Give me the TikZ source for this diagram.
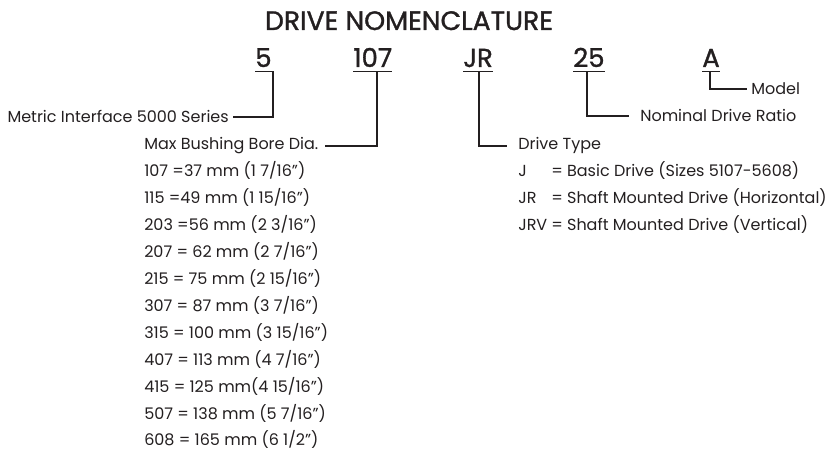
\documentclass[tikz,border=0pt]{standalone}
\usepackage{fontspec}
\setmainfont{Poppins}
\usetikzlibrary{positioning,calc}
\definecolor{ink}{HTML}{231F20}
\tikzset{
  txt/.style={font=\fontsize{12}{14}\selectfont,text=ink,inner sep=0pt},
  codetxt/.style={font=\fontsize{19.5}{22}\selectfont\addfontfeatures{FakeBold=1.2},text=ink,inner sep=0pt,anchor=base west},
  lead/.style={draw=ink,line width=1.1pt},
}

\begin{document}
\begin{tikzpicture}[x=0.75pt,y=-0.75pt]
  \useasboundingbox (0,0) rectangle (828,452);
  \node[font=\fontsize{20}{23}\selectfont\addfontfeatures{FakeBold=1.2},text=ink,inner sep=0pt,anchor=base] (title) at (409,30) {DRIVE NOMENCLATURE};
  % code letters, each one underlined
  \foreach \cname/\ctext/\cx in {c5/5/255,c107/107/353,cJR/JR/463,c25/25/573,cA/A/702} {
    \node[codetxt] (\cname) at (\cx,67) {\ctext};
    \draw[lead] ($(\cname.base west)+(0,4.5)$) -- ($(\cname.base east)+(0,4.5)$);
  }
  % what each part means
  \node[txt,anchor=base east] (lMetric) at (229,123) {Metric Interface 5000 Series};
  \node[txt,anchor=base west] (lBore) at (144,150) {Max Bushing Bore Dia.};
  \node[txt,anchor=base west] (lType) at (518,150) {Drive Type};
  \node[txt,anchor=base west] (lRatio) at (640,122) {Nominal Drive Ratio};
  \node[txt,anchor=base west] (lModel) at (751,95) {Model};
  \draw[lead] ($(c5.base west)+(18,4.5)$) |- ([xshift=3pt]lMetric.east);
  \draw[lead] ($(c107.base west)+(24,4.5)$) |- ([xshift=4.5pt]lBore.east);
  \draw[lead] ($(cJR.base west)+(16,4.5)$) |- ([xshift=-8pt]lType.west);
  \draw[lead] ($(c25.base west)+(14,4.5)$) |- ([xshift=-8pt]lRatio.west);
  \draw[lead] ($(cA.base west)+(8,4.5)$) |- ([xshift=-3pt]lModel.west);
  % bore sizes
  \foreach \bsize [count=\brow] in {
      {107 =37 mm (1 7/16”)},
      {115 =49 mm (1 15/16”)},
      {203 =56 mm (2 3/16”)},
      {207 = 62 mm (2 7/16”)},
      {215 = 75 mm (2 15/16”)},
      {307 = 87 mm (3 7/16”)},
      {315 = 100 mm (3 15/16”)},
      {407 = 113 mm (4 7/16”)},
      {415 = 125 mm(4 15/16”)},
      {507 = 138 mm (5 7/16”)},
      {608 = 165 mm (6 1/2”)}} {
    \node[txt,anchor=base west] (b\brow) at (144,150+26.9*\brow) {\bsize};
  }
  % drive types
  \foreach \tkey/\tdesc [count=\trow] in {
      J/Basic Drive (Sizes 5107-5608),
      JR/Shaft Mounted Drive (Horizontal),
      JRV/Shaft Mounted Drive (Vertical)} {
    \node[txt,anchor=base west] (k\trow) at (518,150+26.9*\trow) {\tkey};
    \node[txt,anchor=base west] (d\trow) at (551,150+26.9*\trow) {= \tdesc};
  }
\end{tikzpicture}
\end{document}
